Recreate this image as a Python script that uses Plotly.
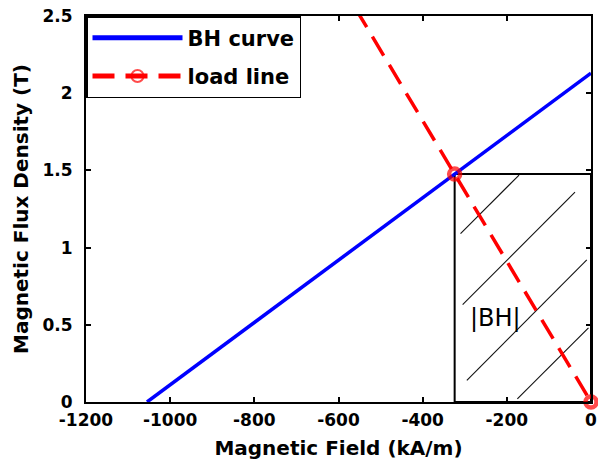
import plotly.graph_objects as go

# Demagnetisation (BH) curve of the magnet: straight line from -Hc to Br
bh_H = [-1055, 0]          # kA/m
bh_B = [0.0, 2.13]         # T

# Load line through the origin; operating point where it meets the BH curve
op_H = -324                # kA/m
op_B = 1.476               # T
load_H = [-600, op_H, 0]
load_B = [2.733, op_B, 0.0]
load_marker_size = [0, 11, 11]   # circles only at the operating point and origin

# Diagonal hatching inside the |BH| product rectangle
hatch_H0 = [-310, -305, -295, -175]
hatch_B0 = [1.09, 0.63, 0.14, 0.02]
hatch_H1 = [-171, -38, -10, -6]
hatch_B1 = [1.47, 1.36, 0.92, 0.48]

# Label for the energy-product area
bh_label = "|BH|"
bh_label_H = -228
bh_label_B = 0.547

# Axis ticks
x_ticks = [-1200, -1000, -800, -600, -400, -200, 0]
x_ticklabels = ["-1200", "-1000", "-800", "-600", "-400", "-200", "0"]
y_ticks = [0, 0.5, 1, 1.5, 2, 2.5]
y_ticklabels = ["0", "0.5", "1", "1.5", "2", "2.5"]

FONT = "DejaVu Sans"

fig = go.Figure()

fig.add_trace(go.Scatter(
    x=bh_H, y=bh_B, mode="lines", name="BH curve",
    line=dict(color="#0000ff", width=3.5),
    legendgroup="bh",
))

fig.add_trace(go.Scatter(
    x=load_H, y=load_B, mode="lines+markers", name="load line",
    line=dict(color="#ff0000", width=3.5, dash="22px,11px"),
    marker=dict(symbol="circle", size=load_marker_size,
                color="rgba(255,255,255,0)",
                line=dict(color="#ff0000", width=4.5)),
    cliponaxis=False,
    legendgroup="load",
))

shapes = []
# |BH| rectangle from the operating point down to the origin
shapes.append(dict(type="rect", xref="x", yref="y",
                   x0=op_H, y0=0, x1=0, y1=op_B,
                   line=dict(color="black", width=2), layer="below"))
for h0, b0, h1, b1 in zip(hatch_H0, hatch_B0, hatch_H1, hatch_B1):
    shapes.append(dict(type="line", xref="x", yref="y",
                       x0=h0, y0=b0, x1=h1, y1=b1,
                       line=dict(color="#111111", width=1.1), layer="below"))

fig.update_layout(
    width=598, height=461,
    margin=dict(l=86, r=7, t=16, b=59),
    paper_bgcolor="white", plot_bgcolor="white",
    font=dict(family=FONT, color="black"),
    shapes=shapes,
    annotations=[dict(
        x=bh_label_H, y=bh_label_B, xref="x", yref="y",
        text=bh_label, showarrow=False,
        font=dict(family=FONT, size=24, color="black"),
    )],
    legend=dict(
        x=0, y=1, xanchor="left", yanchor="top",
        bgcolor="white", bordercolor="black", borderwidth=1.5,
        font=dict(family=FONT, size=21, color="black", weight="bold"),
        itemwidth=90, itemsizing="constant",
        traceorder="grouped", tracegroupgap=8,
    ),
    showlegend=True,
)

axis_common = dict(
    showgrid=False, zeroline=False, automargin=False,
    showline=True, linecolor="black", linewidth=2, mirror="ticks",
    ticks="inside", ticklen=5, tickwidth=1.5, tickcolor="black",
    ticklabeloverflow="allow",
    tickfont=dict(family=FONT, size=17, color="black", weight="bold"),
)

fig.update_xaxes(
    range=[-1200, 0], tickvals=x_ticks, ticktext=x_ticklabels,
    title=dict(text="Magnetic Field (kA/m)", standoff=12,
               font=dict(family=FONT, size=20, color="black", weight="bold")),
    ticklabelstandoff=2,
    **axis_common,
)
fig.update_yaxes(
    range=[0, 2.5], tickvals=y_ticks, ticktext=y_ticklabels,
    title=dict(text="Magnetic Flux Density (T)", standoff=8,
               font=dict(family=FONT, size=20, color="black", weight="bold")),
    ticklabelstandoff=8,
    **axis_common,
)

fig.write_html("out.html")
